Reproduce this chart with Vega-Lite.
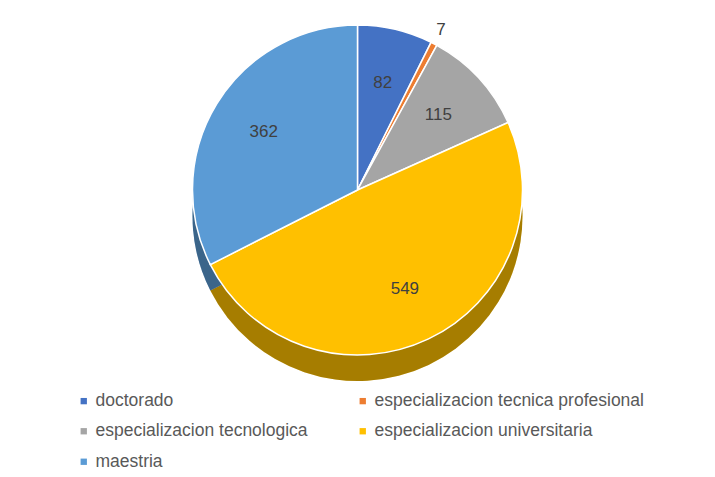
{
  "$schema": "https://vega.github.io/schema/vega-lite/v6.json",
  "width": 715,
  "height": 380,
  "padding": 0,
  "background": "white",
  "view": {"stroke": null},
  "config": {"font": "Liberation Sans"},
  "data": {
    "values": [
      {"k": 1, "cat": "doctorado", "value": 82},
      {"k": 2, "cat": "especializacion tecnica profesional", "value": 7},
      {"k": 3, "cat": "especializacion tecnologica", "value": 115},
      {"k": 4, "cat": "especializacion universitaria", "value": 549},
      {"k": 5, "cat": "maestria", "value": 362}
    ]
  },
  "encoding": {
    "theta": {"field": "value", "type": "quantitative", "stack": true},
    "order": {"field": "k", "type": "quantitative"}
  },
  "layer": [
    {
      "mark": {"type": "arc", "radius": 165, "yOffset": 26, "stroke": null},
      "encoding": {
        "color": {
          "field": "cat", "type": "nominal",
          "scale": {
            "domain": ["doctorado", "especializacion tecnica profesional", "especializacion tecnologica", "especializacion universitaria", "maestria"],
            "range": ["#4472C4", "#ED7D31", "#A5A5A5", "#FFC000", "#5B9BD5"]
          },
          "legend": {
            "orient": "none", "legendX": 75, "legendY": 392, "direction": "horizontal",
            "title": null, "columns": 2, "columnPadding": 46, "rowPadding": 11.5,
            "symbolType": "square", "symbolSize": 40, "symbolStrokeWidth": 0,
            "labelFontSize": 17.5, "labelColor": "#595959", "labelLimit": 400, "labelOffset": 3
          }
        }
      }
    },
    {
      "mark": {"type": "arc", "radius": 165, "yOffset": 26, "color": "black", "opacity": 0.35, "stroke": null},
      "encoding": {}
    },
    {
      "mark": {"type": "arc", "radius": 165, "stroke": "white", "strokeWidth": 1.5},
      "encoding": {
        "color": {"field": "cat", "type": "nominal"}
      }
    },
    {
      "mark": {"type": "text", "radius": 110, "fontSize": 17, "color": "#404040"},
      "encoding": {
        "text": {"condition": {"test": "datum.cat !== 'especializacion tecnica profesional'", "field": "value", "type": "quantitative"}, "value": ""}
      }
    },
    {
      "mark": {"type": "text", "radius": 180, "fontSize": 17, "color": "#404040"},
      "encoding": {
        "text": {"condition": {"test": "datum.cat === 'especializacion tecnica profesional'", "field": "value", "type": "quantitative"}, "value": ""}
      }
    }
  ]
}
